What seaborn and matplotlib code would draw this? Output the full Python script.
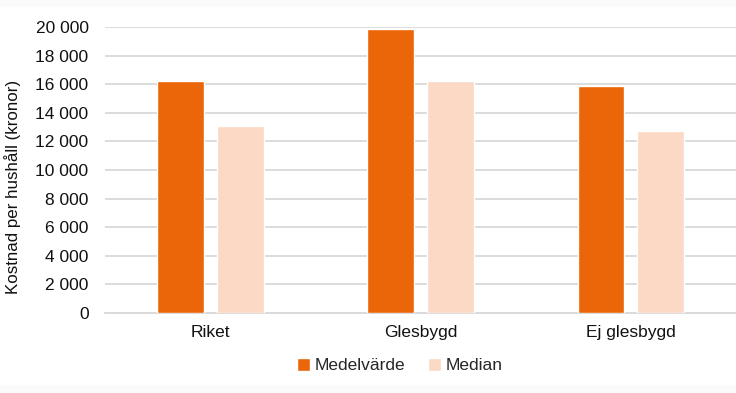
import pandas as pd
import matplotlib.pyplot as plt
import matplotlib.ticker as mticker
from matplotlib.patches import Rectangle
import seaborn as sns

# Data
kategorier = ['Riket', 'Glesbygd', 'Ej glesbygd']
medelvarde = [16250, 19850, 15900]
median = [13050, 16250, 12750]
serier = ['Medelvärde', 'Median']
farger = ['#EB6608', '#FCD9C4']
yticks = list(range(0, 20001, 2000))

df = pd.DataFrame({
    'kategori': kategorier * 2,
    'serie': [serier[0]] * 3 + [serier[1]] * 3,
    'kostnad': medelvarde + median,
})

sns.set_theme(style='white')
plt.rcParams['font.family'] = ['Liberation Sans', 'DejaVu Sans']
fs = 12.5

fig = plt.figure(figsize=(7.36, 3.93), dpi=100)
ax = fig.add_axes([0.143, 0.204, 0.857, 0.727])

# faint screenshot bands at top and bottom
fig.patches.append(Rectangle((0, 1 - 6 / 393), 1, 6 / 393, transform=fig.transFigure,
                             color='#FAFAFA', zorder=-10))
fig.patches.append(Rectangle((0, 0), 1, 8 / 393, transform=fig.transFigure,
                             color='#FAFAFA', zorder=-10))

sns.barplot(data=df, x='kategori', y='kostnad', hue='serie', order=kategorier,
            hue_order=serier, palette=farger, width=0.569, gap=0.217,
            saturation=1, ax=ax, zorder=3)

ax.set_xlim(-0.5, 2.5)
ax.set_ylim(0, 20000)
ax.set_yticks(yticks)
ax.yaxis.set_major_formatter(mticker.FuncFormatter(lambda v, p: f'{int(v):,}'.replace(',', ' ')))
ax.grid(axis='y', color='#D9D9D9', linewidth=1.3, zorder=0)
ax.set_axisbelow(True)
for s in ['top', 'right', 'left']:
    ax.spines[s].set_visible(False)
ax.spines['bottom'].set_color('#D9D9D9')
ax.spines['bottom'].set_linewidth(1.3)
ax.tick_params(axis='both', length=0, labelsize=fs, colors='#111111')
ax.tick_params(axis='x', pad=9)
ax.tick_params(axis='y', pad=12)
ax.set_xlabel('')
ax.set_ylabel('Kostnad per hushåll (kronor)', fontsize=fs - 0.3, color='#111111')
ax.yaxis.set_label_coords(-0.133, 0.44)

ax.legend(loc='center', bbox_to_anchor=(0.467, -0.185), ncol=2, frameon=False,
          fontsize=fs, handlelength=0.75, handleheight=0.75, handletextpad=0.25,
          columnspacing=1.3)

fig.savefig('out.png', dpi=100)
